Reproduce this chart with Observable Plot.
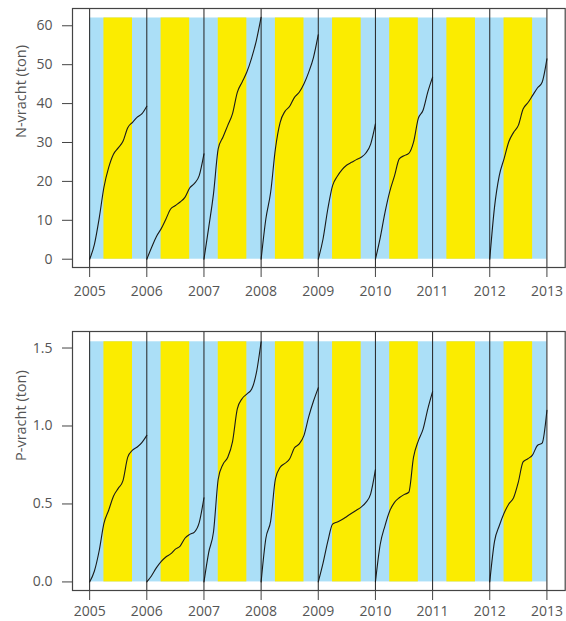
<!DOCTYPE html>
<html>
<head>
<meta charset="utf-8">
<script src="https://cdn.jsdelivr.net/npm/d3@7"></script>
<script src="https://cdn.jsdelivr.net/npm/@observablehq/plot@0.6"></script>
<style>
  html, body { margin: 0; padding: 0; background: #fff; }
  svg { display: block; }
</style>
</head>
<body>
<div id="chart"></div>
<script>
// Month index within each year (0 = 1 Jan, 12 = 31 Dec)
const months = [0,1,2,3,4,5,6,7,8,9,10,11,12];
const years = [2005, 2006, 2007, 2008, 2009, 2010, 2012];
const tickYears = [2005, 2006, 2007, 2008, 2009, 2010, 2011, 2012, 2013];
const bandYears = [2005, 2006, 2007, 2008, 2009, 2010, 2011, 2012];
const summerStartMonth = 3;  // April
const summerEndMonth = 9;    // October

// Cumulative N load (ton)
const N2005 = [0, 3.8, 10.5, 18.5, 23.6, 27.0, 28.6, 30.3, 33.8, 35.2, 36.5, 37.4, 39.3];
const N2006 = [0, 3.0, 5.8, 7.8, 10.3, 12.9, 13.8, 14.7, 15.9, 18.3, 19.5, 21.5, 27.1];
const N2007 = [0, 8.2, 16.8, 28.4, 31.4, 34.4, 37.4, 42.9, 45.5, 48.1, 51.7, 56.2, 62.2];
const N2008 = [0, 10.4, 17.2, 28.4, 35.2, 38.0, 39.3, 41.6, 42.9, 45.1, 48.1, 51.9, 57.7];
const N2009 = [0, 5.2, 12.9, 18.9, 21.3, 23.0, 24.2, 24.9, 25.6, 26.2, 27.3, 29.6, 34.8];
const N2010 = [0, 5.5, 12.0, 17.4, 21.4, 25.8, 26.6, 27.2, 30.1, 36.2, 38.3, 43.0, 46.8];
const N2012 = [0, 13.4, 21.5, 25.8, 30.2, 32.6, 34.4, 38.6, 40.2, 42.1, 44.0, 45.5, 51.5];

// Cumulative P load (ton)
const P2005 = [0, 0.07, 0.20, 0.375, 0.46, 0.55, 0.60, 0.65, 0.80, 0.845, 0.865, 0.895, 0.94];
const P2006 = [0, 0.04, 0.09, 0.13, 0.16, 0.18, 0.21, 0.23, 0.28, 0.305, 0.32, 0.38, 0.54];
const P2007 = [0, 0.19, 0.32, 0.66, 0.755, 0.80, 0.90, 1.11, 1.175, 1.205, 1.235, 1.34, 1.54];
const P2008 = [0, 0.28, 0.39, 0.66, 0.735, 0.76, 0.79, 0.86, 0.885, 0.94, 1.06, 1.16, 1.245];
const P2009 = [0, 0.12, 0.26, 0.37, 0.385, 0.40, 0.42, 0.44, 0.46, 0.48, 0.51, 0.565, 0.72];
const P2010 = [0, 0.24, 0.36, 0.455, 0.51, 0.54, 0.56, 0.575, 0.80, 0.905, 0.98, 1.11, 1.22];
const P2012 = [0, 0.26, 0.36, 0.44, 0.50, 0.54, 0.64, 0.77, 0.79, 0.815, 0.875, 0.89, 1.10];

const nSeries = [N2005, N2006, N2007, N2008, N2009, N2010, N2012];
const pSeries = [P2005, P2006, P2007, P2008, P2009, P2010, P2012];
const nTicks = [0, 10, 20, 30, 40, 50, 60];
const pTicks = [0, 0.5, 1.0, 1.5];
const nBandTop = 62;
const pBandTop = 1.54;

const BLUE = "#ABDFF7";
const YELLOW = "#FBEC00";

function toRows(series) {
  const rows = [];
  series.forEach((vals, i) => {
    vals.forEach((v, j) => rows.push({year: years[i], x: years[i] + months[j] / 12, v}));
  });
  return rows;
}

function panel({series, yDomain, ticks, fmt, bandTop, label, height, marginTop, marginBottom, xPad}) {
  const summers = bandYears.map(y => ({x1: y + summerStartMonth / 12, x2: y + summerEndMonth / 12}));
  return Plot.plot({
    width: 566,
    height,
    marginLeft: 72,
    marginRight: 1.3,
    marginTop,
    marginBottom,
    style: {fontFamily: "'Open Sans', sans-serif", fontSize: "14px", color: "#555", background: "#fff"},
    x: {domain: [2004.70, 2013.32]},
    y: {domain: yDomain},
    marks: [
      Plot.rect([{x1: tickYears[0], x2: tickYears[tickYears.length - 1]}],
        {x1: "x1", x2: "x2", y1: 0, y2: bandTop, fill: BLUE}),
      Plot.rect(summers, {x1: "x1", x2: "x2", y1: 0, y2: bandTop, fill: YELLOW}),
      Plot.ruleX(tickYears, {stroke: "#222", strokeWidth: 1}),
      Plot.line(toRows(series), {x: "x", y: "v", z: "year", curve: "monotone-x", stroke: "#1a1a1a", strokeWidth: 1.1}),
      Plot.frame({stroke: "#444", strokeWidth: 1.2}),
      Plot.axisX({ticks: tickYears, tickFormat: d => String(d), tickSize: 10, tickPadding: xPad, label: null, stroke: "#444"}),
      Plot.axisY({ticks, tickFormat: fmt, tickSize: 10, tickPadding: 10, label: null, stroke: "#444"}),
      Plot.text([label], {frameAnchor: "left", rotate: -90, dx: -51, fontSize: 14.5, fill: "#555", text: d => d})
    ]
  });
}

const chart = document.getElementById("chart");
chart.append(panel({
  series: nSeries, yDomain: [-2.13, 64.44], ticks: nTicks, fmt: d => String(d),
  bandTop: nBandTop, label: "N-vracht (ton)", height: 310, marginTop: 8, marginBottom: 43, xPad: 9
}));
chart.append(panel({
  series: pSeries, yDomain: [-0.055, 1.606], ticks: pTicks, fmt: d => d.toFixed(1),
  bandTop: pBandTop, label: "P-vracht (ton)", height: 311, marginTop: 21, marginBottom: 31, xPad: 6
}));
</script>
</body>
</html>
